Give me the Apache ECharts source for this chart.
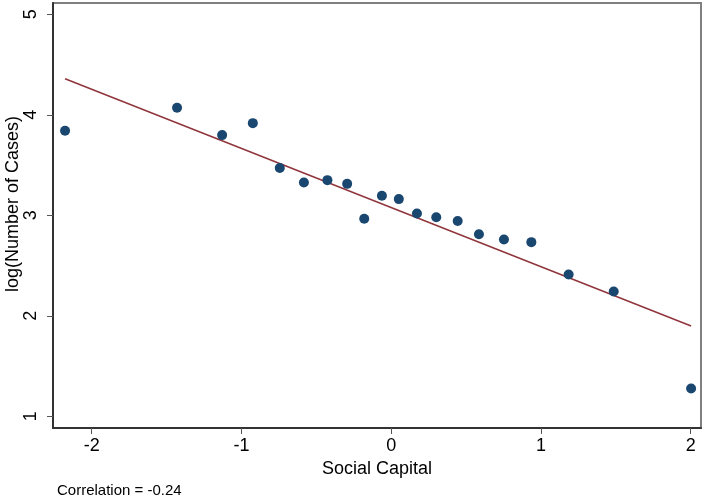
<!DOCTYPE html>
<html>
<head>
<meta charset="utf-8">
<script src="https://cdn.jsdelivr.net/npm/echarts@6/dist/echarts.min.js"></script>
<style>
  html, body { margin: 0; padding: 0; background: #fff; }
  #chart { width: 705px; height: 499px; }
</style>
</head>
<body>
<div id="chart"></div>
<script>
// social capital vs log(number of cases)
const socialCapital = [-2.178, -1.430, -1.129, -0.924, -0.744, -0.583, -0.426, -0.294, -0.180, -0.062,
  0.051, 0.172, 0.301, 0.444, 0.586, 0.753, 0.936, 1.185, 1.486, 2.003];
const logCases = [3.841, 4.070, 3.798, 3.917, 3.471, 3.327, 3.350, 3.313, 2.965, 3.194,
  3.161, 3.018, 2.981, 2.944, 2.812, 2.759, 2.733, 2.411, 2.242, 1.276];

// fitted line end points
const fitX = [-2.178, 2.003];
const fitY = [4.359, 1.899];

const xTicks = [-2, -1, 0, 1, 2];
const yTicks = [1, 2, 3, 4, 5];

const font = "'Liberation Sans', Arial, sans-serif";

const chart = echarts.init(document.getElementById("chart"));

const option = {
  animation: false,
  backgroundColor: "#fff",
  grid: {
    left: 53,
    right: 4,
    top: 3,
    bottom: 71,
    containLabel: false,
    outerBoundsMode: "none",
    show: true,
    borderColor: "#808080",
    borderWidth: 2,
  },
  xAxis: {
    type: "value",
    min: -2.2585,
    max: 2.069,
    name: "Social Capital",
    nameLocation: "middle",
    nameGap: 30,
    nameTextStyle: { fontFamily: font, fontSize: 18, color: "#000" },
    axisLine: { show: true, onZero: false, lineStyle: { color: "#333", width: 2 } },
    axisTick: { show: true, length: 6, customValues: xTicks, lineStyle: { color: "#555" } },
    axisLabel: {
      customValues: xTicks,
      margin: 9,
      fontFamily: font,
      fontSize: 18,
      color: "#000",
    },
    splitLine: { show: false },
  },
  yAxis: {
    type: "value",
    min: 0.8835,
    max: 5.1125,
    axisLine: { show: true, onZero: false, lineStyle: { color: "#333", width: 2 } },
    axisTick: { show: true, length: 6, customValues: yTicks, lineStyle: { color: "#555" } },
    axisLabel: {
      customValues: yTicks,
      rotate: 90,
      margin: 13,
      fontFamily: font,
      fontSize: 18,
      color: "#000",
    },
    splitLine: { show: false },
  },
  series: [
    {
      type: "line",
      data: fitX.map((x, i) => [x, fitY[i]]),
      symbol: "none",
      lineStyle: { color: "#90353b", width: 1.5 },
      z: 2,
    },
    {
      type: "scatter",
      data: socialCapital.map((x, i) => [x, logCases[i]]),
      symbolSize: 10,
      itemStyle: { color: "#1a476f", opacity: 1 },
      z: 3,
    },
  ],
  graphic: [
    {
      // y axis title
      type: "text",
      x: 13,
      y: 204,
      rotation: Math.PI / 2,
      style: {
        text: "log(Number of Cases)",
        font: "18px " + font,
        fill: "#000",
        align: "center",
        verticalAlign: "middle",
      },
    },
    {
      type: "text",
      left: 57,
      top: 483,
      style: {
        text: "Correlation = -0.24",
        font: "15px " + font,
        fill: "#000",
      },
    },
  ],
};

chart.setOption(option);
</script>
</body>
</html>
